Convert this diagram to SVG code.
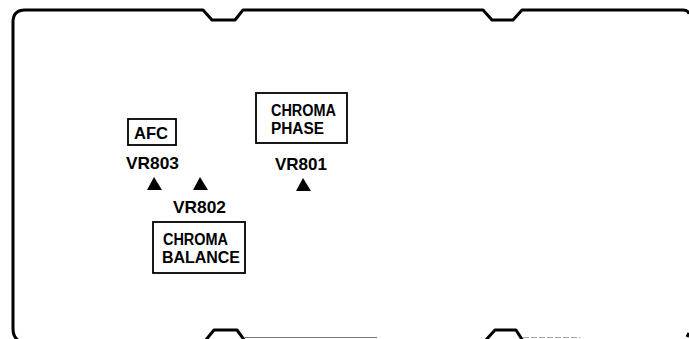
<svg xmlns="http://www.w3.org/2000/svg" width="689" height="339" viewBox="0 0 689 339">
<style>
.outline{fill:none;stroke:#000;stroke-width:3;stroke-linejoin:round}
.box{fill:#fff;stroke:#000;stroke-width:1.8}
.t{font-family:"Liberation Sans",Arial,sans-serif;font-weight:bold;font-size:17px;fill:#000}
.b{font-size:16px}
.tri{fill:#000}
</style>
<rect width="689" height="339" fill="#fff"/>
<g id="chassis">
<path class="outline" d="M19,341 Q13,337 13,329 L13,22 Q13,10 25,10 L203,10 L212,20 L235,20 L243,10 L483,10 L492,20 L513,20 L522,10 L683,10 Q688,10 689,14"/>
<path class="outline" d="M205,341 L214,330 L237,330 L245,341"/>
<path class="outline" d="M485,341 L495,330 L516,330 L523,341"/>
<path class="outline" d="M687,337 L689,333"/>
<line x1="245" y1="337.5" x2="377" y2="337.5" stroke="#777" stroke-width="1"/>
<line x1="523" y1="337.5" x2="580" y2="337.5" stroke="#aaa" stroke-width="1" stroke-dasharray="6,2"/>
</g>
<g id="afc">
<rect class="box" x="128" y="119" width="48" height="26"/>
<text class="t" x="134" y="139" textLength="34" lengthAdjust="spacingAndGlyphs">AFC</text>
</g>
<g id="vr803">
<text class="t" x="126" y="169" textLength="53" lengthAdjust="spacingAndGlyphs">VR803</text>
<polygon class="tri" points="154,177 147,190 162,190"/>
</g>
<g id="vr802">
<polygon class="tri" points="200,177 193,190 208,190"/>
<text class="t" x="173" y="213" textLength="53" lengthAdjust="spacingAndGlyphs">VR802</text>
</g>
<g id="chroma-balance">
<rect class="box" x="153" y="222" width="92" height="51"/>
<text class="t b" x="163" y="245" textLength="65" lengthAdjust="spacingAndGlyphs">CHROMA</text>
<text class="t b" x="162" y="263" textLength="78" lengthAdjust="spacingAndGlyphs">BALANCE</text>
</g>
<g id="chroma-phase">
<rect class="box" x="256" y="93" width="91" height="50"/>
<text class="t b" x="271" y="116" textLength="65" lengthAdjust="spacingAndGlyphs">CHROMA</text>
<text class="t b" x="271" y="134" textLength="53" lengthAdjust="spacingAndGlyphs">PHASE</text>
</g>
<g id="vr801">
<text class="t" x="275" y="170" textLength="52" lengthAdjust="spacingAndGlyphs">VR801</text>
<polygon class="tri" points="303,178 296,191 311,191"/>
</g>
<g id="connectors"></g>
</svg>
